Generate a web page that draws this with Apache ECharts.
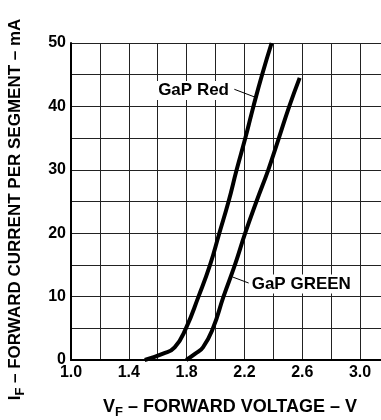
<!DOCTYPE html>
<html>
<head>
<meta charset="utf-8">
<script src="https://cdn.jsdelivr.net/npm/echarts@6/dist/echarts.min.js"></script>
<style>
  html, body { margin: 0; padding: 0; background: #fff; }
  #chart { width: 381px; height: 420px; }
</style>
</head>
<body>
<div id="chart"></div>
<script>
// forward voltage (V) vs forward current (mA)
const redVoltage = [1.51, 1.637, 1.717, 1.795, 1.882, 1.962, 2.026, 2.09, 2.146, 2.206, 2.262, 2.322, 2.388]
const redCurrent = [0, 1, 2, 5, 10, 15, 20, 25, 30, 35, 40, 45, 50]

const greenVoltage = [1.797, 1.86, 1.913, 1.982, 2.055, 2.134, 2.205, 2.283, 2.365, 2.438, 2.51, 2.582]
const greenCurrent = [0, 1, 2, 5, 10, 15, 20, 25, 30, 35, 40, 44.5]

const xTickLabels = ['1.0', '1.4', '1.8', '2.2', '2.6', '3.0']
const yTickLabels = ['0', '10', '20', '30', '40', '50']

const font = '"Liberation Sans", Arial, sans-serif'
const ink = '#000'

function pairs(xs, ys) {
  return xs.map((x, i) => [x, ys[i]])
}

function curveLabel(text, at, leader) {
  return {
    markPoint: {
      silent: true,
      symbol: 'rect',
      symbolSize: 0,
      data: [{ coord: at }],
      label: {
        show: true,
        position: 'inside',
        formatter: text,
        color: ink,
        fontFamily: font,
        fontWeight: 'bold',
        fontSize: 17,
        backgroundColor: '#fff',
        padding: [1, 3],
      },
    },
    markLine: {
      silent: true,
      symbol: 'none',
      label: { show: false },
      lineStyle: { color: ink, width: 1, type: 'solid' },
      data: [[{ coord: leader[0] }, { coord: leader[1] }]],
    },
  }
}

function nameStyle(size) {
  return {
    color: ink,
    fontFamily: font,
    fontWeight: 'bold',
    fontSize: size,
    rich: {
      sub: { color: ink, fontFamily: font, fontWeight: 'bold', fontSize: 13, padding: [10, 0, 0, 0] },
    },
  }
}

const tickStyle = { color: ink, fontFamily: font, fontWeight: 'bold', fontSize: 16 }

const chart = echarts.init(document.getElementById('chart'), null, { renderer: 'canvas' })

chart.setOption({
  animation: false,
  backgroundColor: '#fff',
  grid: { left: 71, top: 43, width: 318, height: 317, containLabel: false, outerBoundsMode: 'none' },
  xAxis: {
    type: 'value',
    min: 1.0,
    max: 3.2,
    interval: 0.2,
    name: 'V{sub|F} – FORWARD VOLTAGE – V',
    nameLocation: 'middle',
    nameGap: 36,
    nameTextStyle: nameStyle(18),
    axisLine: { show: true, lineStyle: { color: ink, width: 2 } },
    axisTick: { show: false },
    splitLine: { show: true, lineStyle: { color: '#222', width: 1 } },
    axisLabel: {
      ...tickStyle,
      margin: 5,
      formatter: (v) => (xTickLabels.includes(v.toFixed(1)) ? v.toFixed(1) : ''),
    },
  },
  yAxis: {
    type: 'value',
    min: 0,
    max: 50,
    interval: 5,
    name: 'I{sub|F} – FORWARD CURRENT PER SEGMENT – mA',
    nameLocation: 'middle',
    nameGap: 44,
    nameTextStyle: { ...nameStyle(17), padding: [0, 16, 0, 0] },
    axisLine: { show: true, lineStyle: { color: ink, width: 2 } },
    axisTick: { show: false },
    splitLine: { show: true, lineStyle: { color: '#222', width: 1 } },
    axisLabel: {
      ...tickStyle,
      margin: 5,
      formatter: (v) => (yTickLabels.includes(String(v)) ? String(v) : ''),
    },
  },
  series: [
    {
      name: 'GaP Red',
      type: 'line',
      data: pairs(redVoltage, redCurrent),
      smooth: true,
      symbol: 'none',
      lineStyle: { color: ink, width: 4 },
      ...curveLabel('GaP Red', [1.848, 42.5], [[2.13, 42.7], [2.28, 41.4]]),
    },
    {
      name: 'GaP GREEN',
      type: 'line',
      data: pairs(greenVoltage, greenCurrent),
      smooth: true,
      symbol: 'none',
      lineStyle: { color: ink, width: 4 },
      ...curveLabel('GaP GREEN', [2.593, 12.0], [[2.117, 13.1], [2.234, 12.1]]),
    },
  ],
})
</script>
</body>
</html>
